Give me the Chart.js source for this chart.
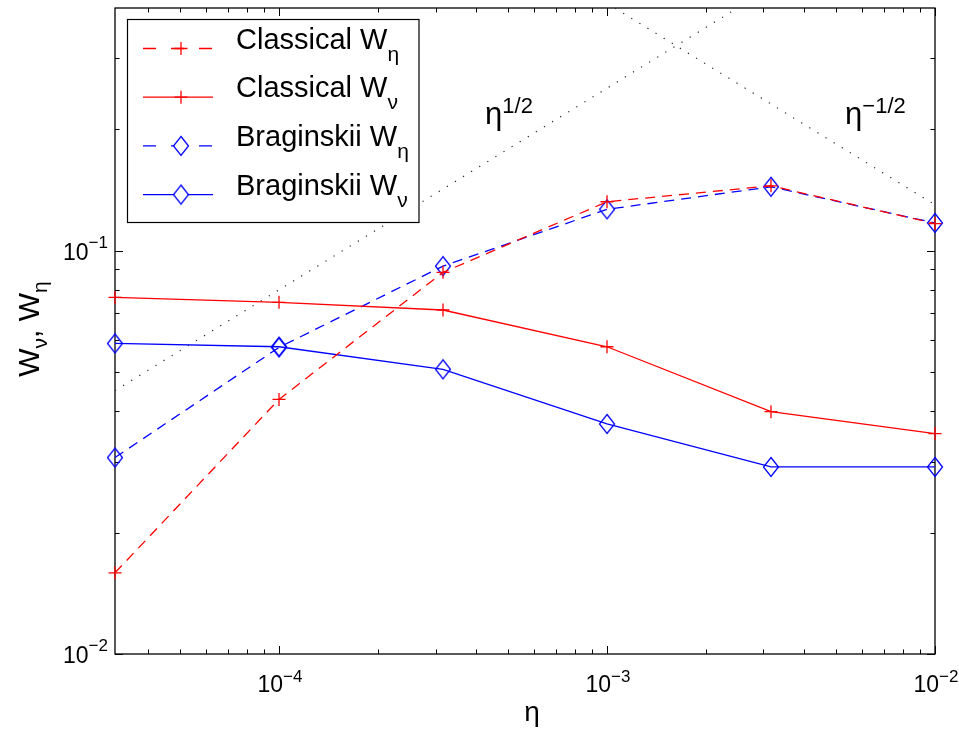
<!DOCTYPE html>
<html>
<head>
<meta charset="utf-8">
<title>W vs eta</title>
<script src="https://cdn.jsdelivr.net/npm/chart.js@4.4.0/dist/chart.umd.min.js"></script>
<style>
  html, body { margin: 0; padding: 0; background: #fff; }
  canvas { display: block; }
</style>
</head>
<body>
<canvas id="chart" width="959" height="729"></canvas>
<script>
// eta values on the x axis (10^-4.5 ... 10^-2)
var etaValues = [3.162e-5, 1e-4, 3.162e-4, 1e-3, 3.162e-3, 1e-2];

var classicalWeta  = [0.0159, 0.0428, 0.0884, 0.1323, 0.1449, 0.1168];
var classicalWnu   = [0.0766, 0.0745, 0.0713, 0.0578, 0.0399, 0.0352];
var braginskiiWeta = [0.0307, 0.0576, 0.0916, 0.1267, 0.1441, 0.1172];
var braginskiiWnu  = [0.0589, 0.0578, 0.0508, 0.0372, 0.0291, 0.0291];

// dotted guide lines, end points only
var halfPowerX  = [3.162e-5, 1e-2];
var halfPowerY  = [0.045, 0.8];
var minusHalfX  = [1e-3, 1e-2];
var minusHalfY  = [0.411, 0.13];

// tick labels (10 with exponent)
var xTicks = [1e-4, 1e-3, 1e-2];
var xTickExps = ['\u22124', '\u22123', '\u22122'];
var yTicks = [1e-2, 1e-1];
var yTickExps = ['\u22122', '\u22121'];

var seriesNames = ['Classical W', 'Classical W', 'Braginskii W', 'Braginskii W'];
var seriesSubs  = ['\u03b7', '\u03bd', '\u03b7', '\u03bd'];

var FONT = '"Liberation Sans", Arial, Helvetica, sans-serif';
var RED = '#ff0000';
var BLUE = '#0000ff';

function makeDiamond(color) {
    var c = document.createElement('canvas');
    c.width = 18; c.height = 22;
    var g = c.getContext('2d');
    g.strokeStyle = color;
    g.lineWidth = 1.3;
    g.beginPath();
    g.moveTo(9, 1.5); g.lineTo(16.5, 11); g.lineTo(9, 20.5); g.lineTo(1.5, 11);
    g.closePath();
    g.stroke();
    return c;
}
var blueDiamond = makeDiamond(BLUE);

function toPoints(xs, ys) {
    return xs.map(function (x, i) { return {x: x, y: ys[i]}; });
}

// draws a list of [text, font, dy] pieces from x, returns end x
function richText(ctx, parts, x, y, measureOnly) {
    parts.forEach(function (p) {
        ctx.font = p[1];
        if (!measureOnly) ctx.fillText(p[0], x, y + p[2]);
        x += ctx.measureText(p[0]).width;
    });
    return x;
}

var axesPlugin = {
    id: 'matlabAxes',
    beforeDatasetsDraw: function (chart) {
        var ctx = chart.ctx, a = chart.chartArea;
        var xs = chart.scales.x, ys = chart.scales.y;
        ctx.save();
        ctx.strokeStyle = '#000';
        ctx.lineWidth = 1;
        ctx.beginPath();
        // x ticks, top and bottom, pointing inward
        for (var e = -5; e <= -2; e++) {
            for (var k = 1; k <= 9; k++) {
                var v = k * Math.pow(10, e);
                if (v < xs.min * 0.999 || v > xs.max * 1.001) continue;
                var px = Math.round(xs.getPixelForValue(v)) + 0.5;
                var len = (k === 1) ? 8 : 4.5;
                ctx.moveTo(px, a.bottom); ctx.lineTo(px, a.bottom - len);
                ctx.moveTo(px, a.top); ctx.lineTo(px, a.top + len);
            }
        }
        // y ticks, left and right
        for (var e2 = -2; e2 <= -1; e2++) {
            for (var k2 = 1; k2 <= 9; k2++) {
                var v2 = k2 * Math.pow(10, e2);
                if (v2 < ys.min * 0.999 || v2 > ys.max * 0.999) continue;
                var py = Math.round(ys.getPixelForValue(v2)) + 0.5;
                var len2 = (k2 === 1) ? 8 : 4.5;
                ctx.moveTo(a.left, py); ctx.lineTo(a.left + len2, py);
                ctx.moveTo(a.right, py); ctx.lineTo(a.right - len2, py);
            }
        }
        ctx.stroke();
        ctx.lineWidth = 1.3;
        ctx.strokeRect(a.left, a.top, a.right - a.left, a.bottom - a.top);

        // tick labels
        ctx.fillStyle = '#000';
        ctx.textBaseline = 'alphabetic';
        ctx.textAlign = 'left';
        xTicks.forEach(function (t, i) {
            var parts = [['10', '23px ' + FONT, 0], [xTickExps[i], '17px ' + FONT, -10]];
            var w = richText(ctx, parts, 0, 0, true);
            var cx = xs.getPixelForValue(t);
            richText(ctx, parts, cx - w / 2 + 1, a.bottom + 38);
        });
        yTicks.forEach(function (t, i) {
            var parts = [['10', '23px ' + FONT, 0], [yTickExps[i], '17px ' + FONT, -12]];
            var w = richText(ctx, parts, 0, 0, true);
            var py = ys.getPixelForValue(t);
            richText(ctx, parts, a.left - 7 - w, py + 9);
        });

        // axis titles
        ctx.font = '28px ' + FONT;
        ctx.textAlign = 'center';
        ctx.fillText('\u03b7', (a.left + a.right) / 2 + 7, 721);

        ctx.save();
        ctx.translate(39, 329);
        ctx.rotate(-Math.PI / 2);
        ctx.textAlign = 'left';
        var yl = [['W', '30px ' + FONT, 0], ['\u03bd', '21px ' + FONT, 8],
                  [', W', '30px ' + FONT, 0], ['\u03b7', '21px ' + FONT, 8]];
        var yw = richText(ctx, yl, 0, 0, true);
        richText(ctx, yl, -yw / 2, 0);
        ctx.restore();
        ctx.restore();
    },
    afterDraw: function (chart) {
        var ctx = chart.ctx;
        var xs = chart.scales.x, ys = chart.scales.y;
        ctx.save();
        ctx.fillStyle = '#000';
        ctx.textAlign = 'left';
        ctx.textBaseline = 'alphabetic';

        // power-law annotations
        var ax1 = xs.getPixelForValue(4.25e-4), ay = ys.getPixelForValue(0.206);
        richText(ctx, [['\u03b7', '31px ' + FONT, 0], ['1/2', '22px ' + FONT, -11]], ax1, ay);
        var ax2 = xs.getPixelForValue(5.32e-3);
        richText(ctx, [['\u03b7', '31px ' + FONT, 0], ['\u22121/2', '22px ' + FONT, -11]], ax2, ay);

        // legend box
        var bx = 127.5, by = 19.5, bw = 291.5, bh = 203;
        ctx.fillStyle = '#fff';
        ctx.fillRect(bx, by, bw, bh);
        ctx.strokeStyle = '#000';
        ctx.lineWidth = 1.2;
        ctx.strokeRect(bx, by, bw, bh);

        chart.data.datasets.slice(0, 4).forEach(function (ds, i) {
            var ry = 48.5 + i * 48.7;
            ctx.save();
            ctx.strokeStyle = ds.borderColor;
            ctx.lineWidth = 1.3;
            ctx.setLineDash(ds.borderDash.length ? [13, 15] : []);
            ctx.beginPath();
            ctx.moveTo(143, ry); ctx.lineTo(213, ry);
            ctx.stroke();
            ctx.setLineDash([]);
            if (ds.pointStyle === 'cross') {
                ctx.beginPath();
                ctx.moveTo(181 - 6.5, ry); ctx.lineTo(181 + 6.5, ry);
                ctx.moveTo(181, ry - 6.5); ctx.lineTo(181, ry + 6.5);
                ctx.stroke();
            } else {
                ctx.fillStyle = '#fff';
                ctx.fillRect(174, ry - 9, 14, 18);
                ctx.drawImage(ds.pointStyle, 181 - 9, ry - 11);
            }
            ctx.restore();
            ctx.fillStyle = '#000';
            richText(ctx, [[seriesNames[i], '29px ' + FONT, 0], [seriesSubs[i], '21px ' + FONT, 12]], 236, ry);
        });
        ctx.restore();
    }
};

var lineCommon = {
    borderWidth: 1.3,
    pointRadius: 6.5,
    pointHoverRadius: 6.5,
    pointBorderWidth: 1.3,
    pointBackgroundColor: 'rgba(0,0,0,0)',
    tension: 0,
    clip: false
};

function series(values, color, dashed, marker) {
    return Object.assign({}, lineCommon, {
        data: toPoints(etaValues, values),
        borderColor: color,
        pointBorderColor: color,
        borderDash: dashed ? [10, 7] : [],
        pointStyle: marker
    });
}

var datasets = [
    series(classicalWeta, RED, true, 'cross'),
    series(classicalWnu, RED, false, 'cross'),
    series(braginskiiWeta, BLUE, true, blueDiamond),
    series(braginskiiWnu, BLUE, false, blueDiamond),
    {
        data: toPoints(halfPowerX, halfPowerY),
        borderColor: '#222', borderWidth: 1.2, borderDash: [1.2, 8.3],
        pointRadius: 0, tension: 0
    },
    {
        data: toPoints(minusHalfX, minusHalfY),
        borderColor: '#222', borderWidth: 1.2, borderDash: [1.2, 8.3],
        pointRadius: 0, tension: 0
    }
];

new Chart(document.getElementById('chart').getContext('2d'), {
    type: 'line',
    data: { datasets: datasets },
    options: {
        responsive: false,
        animation: false,
        events: [],
        layout: { padding: { left: 115, top: 8, right: 24, bottom: 75 } },
        plugins: { legend: { display: false }, tooltip: { enabled: false } },
        scales: {
            x: { type: 'logarithmic', min: 3.162e-5, max: 1e-2, display: false },
            y: { type: 'logarithmic', min: 0.01, max: 0.4, display: false }
        }
    },
    plugins: [axesPlugin]
});
</script>
</body>
</html>
